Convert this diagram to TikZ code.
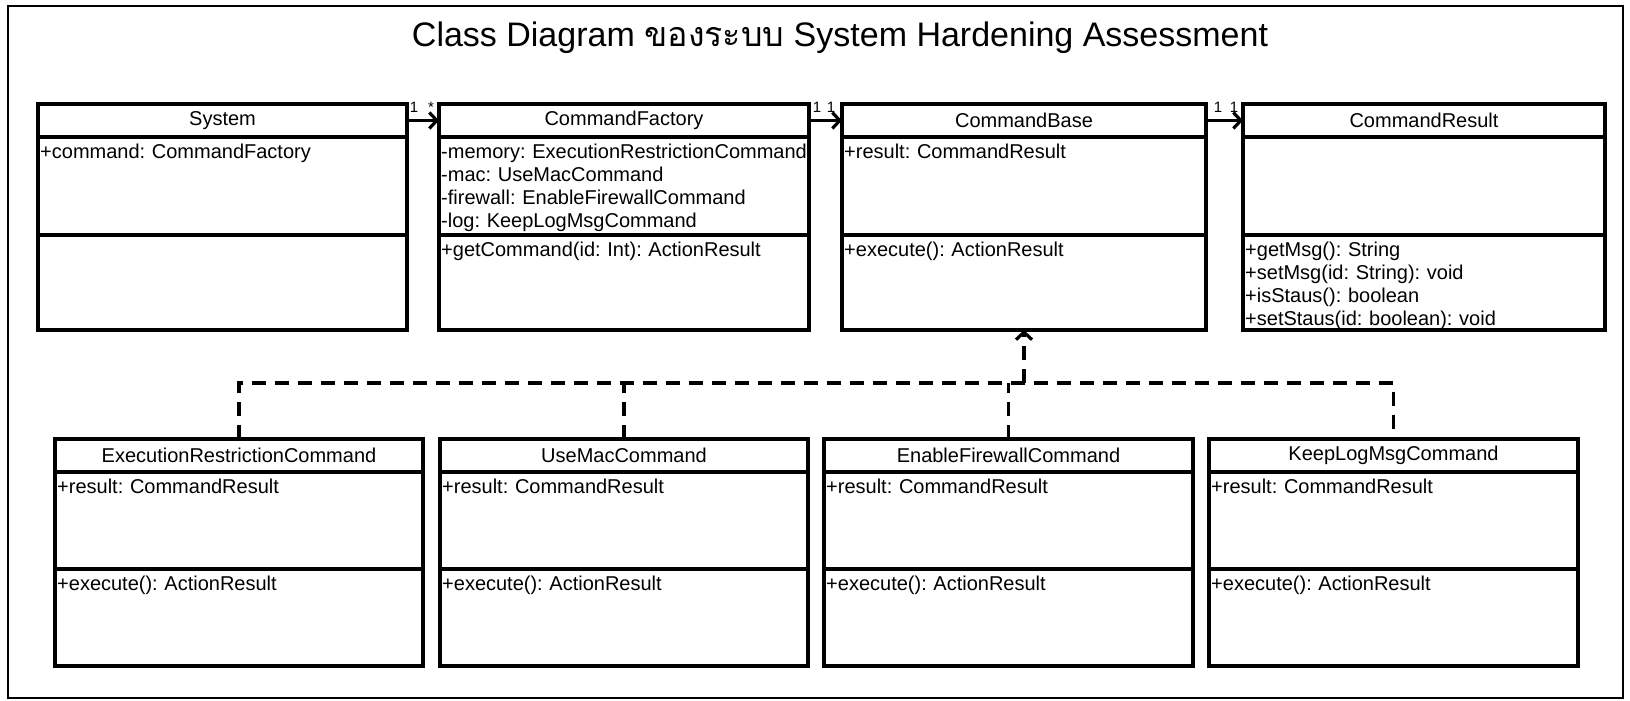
\documentclass[tikz,border=0pt]{standalone}
\usepackage{fontspec}
\setmainfont{Liberation Sans}
\newfontfamily\thaifont[Script=Thai]{Loma}
\usetikzlibrary{arrows.meta,calc}
\frenchspacing

% one UML class: id, x, y, width, title, attributes, methods, attr height, method height
\newcommand{\umlclass}[9]{%
  \node[hdr, minimum width=#4] (#1) at (#2,#3) {#5};
  \node[cmp, minimum width=#4, minimum height=#8] (#1a) at (#1.south west) {};
  \node[cmp, minimum width=#4, minimum height=#9] (#1m) at (#1a.south west) {};
  \node[member] (#1at) at ($(#1a.north west)+(2,21)$) {#6};
  \node[member] (#1mt) at ($(#1m.north west)+(2,21)$) {#7};
}

\tikzset{
  x=1pt, y=-1pt,
  hdr/.style={draw, line width=3.2pt, anchor=north west, inner sep=0pt, outer sep=0pt,
    minimum height=33, font=\fontsize{20}{23}\selectfont},
  cmp/.style={draw, line width=3.2pt, anchor=north west, inner sep=0pt, outer sep=0pt},
  member/.style={anchor=base west, inner sep=0pt, text width=400pt, align=left,
    font=\fontsize{20}{23.2}\selectfont},
  mult/.style={inner sep=0pt, font=\fontsize{15}{17}\selectfont},
  assoc/.style={line width=3.2pt, -{Straight Barb[length=7.5pt,width=16pt]}},
  realize/.style={line width=3.2pt, dash pattern=on 14pt off 9pt},
}

\begin{document}
\begin{tikzpicture}
\useasboundingbox (0,0) rectangle (1630,701);
\fill[white] (0,0) rectangle (1630,701);
\draw[line width=2pt] (8,6) rectangle (1623,698);

\node (title) at (840,38) {\fontsize{34}{40}\selectfont Class Diagram {\thaifont ของระบบ} System Hardening Assessment};

% top row
\umlclass{sys}{38}{104}{369}{System}{+command: CommandFactory}{}{98}{95}
\umlclass{cf}{439}{104}{370}{CommandFactory}{-memory: ExecutionRestrictionCommand\\-mac: UseMacCommand\\-firewall: EnableFirewallCommand\\-log: KeepLogMsgCommand}{+getCommand(id: Int): ActionResult}{98}{95}
\umlclass{cb}{842}{104}{364}{CommandBase}{+result: CommandResult}{+execute(): ActionResult}{98}{95}
\umlclass{cr}{1243}{104}{362}{CommandResult}{}{+getMsg(): String\\+setMsg(id: String): void\\+isStaus(): boolean\\+setStaus(id: boolean): void}{98}{95}

% bottom row
\umlclass{erc}{55}{439}{368}{ExecutionRestrictionCommand}{+result: CommandResult}{+execute(): ActionResult}{97}{97}
\umlclass{umc}{440}{439}{368}{UseMacCommand}{+result: CommandResult}{+execute(): ActionResult}{97}{97}
\umlclass{efc}{824}{439}{369}{EnableFirewallCommand}{+result: CommandResult}{+execute(): ActionResult}{97}{97}
\umlclass{klc}{1209}{439}{369}{KeepLogMsgCommand}{+result: CommandResult}{+execute(): ActionResult}{97}{97}

% associations
\draw[assoc] (sys.east) -- (cf.west);
\draw[assoc] (cf.east) -- (cb.west);
\draw[assoc] (cb.east) -- (cr.west);

\node[mult] (m1) at (414,107) {1};
\node[mult] (m2) at (431,107) {*};
\node[mult] (m3) at (817,107) {1};
\node[mult] (m4) at (831,107) {1};
\node[mult] (m5) at (1218,107) {1};
\node[mult] (m6) at (1234,107) {1};

% realizations of CommandBase
\coordinate (jn) at ($(cbm.south)+(0,53)$);
\draw[realize] (erc.north) |- (jn) -| (klc.north);
\draw[realize] (umc.north) -- (umc.north |- jn);
\draw[realize] (efc.north) -- (efc.north |- jn);
\draw[realize, -{Straight Barb[length=7.5pt,width=16pt]}] (jn) -- (cbm.south);
\end{tikzpicture}
\end{document}
